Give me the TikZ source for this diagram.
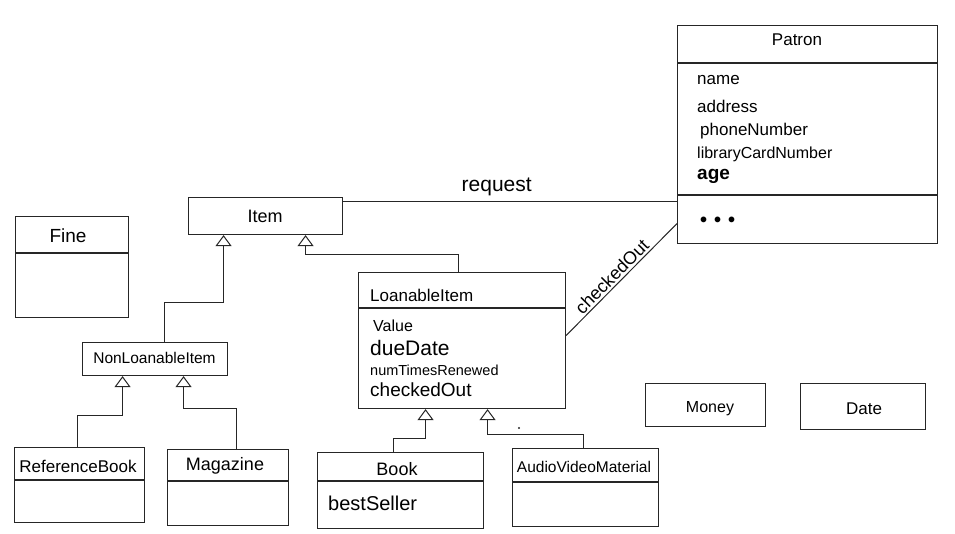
\documentclass[tikz,border=0pt]{standalone}
\usepackage{fontspec}
\setmainfont{Liberation Sans}
\usetikzlibrary{arrows.meta}
\begin{document}
\begin{tikzpicture}[x=1pt,y=-1pt,
  umlbox/.style={draw=black!85, line width=1.1pt, rectangle, inner sep=0pt, anchor=north west},
  divider/.style={draw=black!85, line width=1.1pt},
  txt/.style={inner sep=0pt, text=black},
  fs/.style={font=\fontsize{#1}{#1}\selectfont},
  gen/.style={draw=black!85, line width=1pt,
    -{Triangle[open, length=11pt, width=16pt, line width=1pt]}},
  assoc/.style={draw=black!85, line width=1pt},
]
\useasboundingbox (0,0) rectangle (955,534);

% ---- class boxes ----
\node[umlbox, minimum width=260pt, minimum height=218pt] (patron) at (677,25) {};
\node[umlbox, minimum width=154pt, minimum height=37pt]  (item)   at (188,197) {};
\node[umlbox, minimum width=113pt, minimum height=101pt] (fine)   at (15,216) {};
\node[umlbox, minimum width=207pt, minimum height=136pt] (loan)   at (358,272) {};
\node[umlbox, minimum width=145pt, minimum height=33pt]  (nonloan) at (82,342) {};
\node[umlbox, minimum width=130pt, minimum height=75pt]  (refbook) at (14,447) {};
\node[umlbox, minimum width=121pt, minimum height=76pt]  (mag)    at (167,449) {};
\node[umlbox, minimum width=166pt, minimum height=76pt]  (book)   at (317,452) {};
\node[umlbox, minimum width=146pt, minimum height=78pt]  (av)     at (512,448) {};
\node[umlbox, minimum width=120pt, minimum height=43pt]  (money)  at (645,383) {};
\node[umlbox, minimum width=125pt, minimum height=46pt]  (date)   at (800,383) {};

% ---- compartment dividers ----
\draw[divider] ([yshift=-38pt]patron.north west) -- ([yshift=-38pt]patron.north east);
\draw[divider] ([yshift=-170pt]patron.north west) -- ([yshift=-170pt]patron.north east);
\draw[divider] ([yshift=-37pt]fine.north west) -- ([yshift=-37pt]fine.north east);
\draw[divider] ([yshift=-36pt]loan.north west) -- ([yshift=-36pt]loan.north east);
\draw[divider] ([yshift=-33pt]refbook.north west) -- ([yshift=-33pt]refbook.north east);
\draw[divider] ([yshift=-32pt]mag.north west) -- ([yshift=-32pt]mag.north east);
\draw[divider] ([yshift=-29pt]book.north west) -- ([yshift=-29pt]book.north east);
\draw[divider] ([yshift=-34pt]av.north west) -- ([yshift=-34pt]av.north east);

% ---- class names ----
\node[txt, fs=17] (tpatron) at (797,40) {Patron};
\node[txt, fs=18] (titem) at (265,216) {Item};
\node[txt, fs=19] (tfine) at (68,236) {Fine};
\node[txt, fs=17, anchor=west] (tloan) at (370,295) {LoanableItem};
\node[txt, fs=15.5] (tnonloan) at (154.5,358) {NonLoanableItem};
\node[txt, fs=17] (trefbook) at (78,466) {ReferenceBook};
\node[txt, fs=18] (tmag) at (225,466) {Magazine};
\node[txt, fs=18] (tbook) at (397,469) {Book};
\node[txt, fs=15.5] (tav) at (584,467) {AudioVideoMaterial};
\node[txt, fs=16] (tmoney) at (710,409) {Money};
\node[txt, fs=17] (tdate) at (864,409) {Date};

% ---- attributes ----
\node[txt, fs=17, anchor=west] (aname) at (697,80) {name};
\node[txt, fs=17, anchor=west] (aaddr) at (697,106) {address};
\node[txt, fs=17, anchor=west] (aphone) at (700,131) {phoneNumber};
\node[txt, fs=16, anchor=west] (acard) at (697,154) {libraryCardNumber};
\node[txt, anchor=west, font=\fontsize{19}{19}\selectfont\bfseries] (aage) at (697,176) {age};
\node[txt, anchor=west, font=\fontsize{20}{20}\selectfont\bfseries] (amore) at (700,222) {•\hspace{7pt}•\hspace{7pt}•};

\node[txt, fs=16, anchor=west] (avalue) at (373,326) {Value};
\node[txt, fs=21, anchor=west] (adue) at (370,348) {dueDate};
\node[txt, fs=14.5, anchor=west] (arenew) at (370,370) {numTimesRenewed};
\node[txt, fs=19, anchor=west] (achecked) at (370,390) {checkedOut};
\node[txt, fs=20, anchor=west] (abest) at (328,503) {bestSeller};

% ---- generalizations ----
\draw[gen] ([xshift=9.5pt]nonloan.north) -- ++(0,-39) -| ([xshift=-42pt]item.south);
\draw[gen] ([xshift=-3.5pt]loan.north) -- ++(0,-17) -| ([xshift=40pt]item.south);
\draw[gen] ([xshift=-2pt]refbook.north) -- ++(0,-32) -| ([xshift=-32.5pt]nonloan.south);
\draw[gen] ([xshift=8.5pt]mag.north) -- ++(0,-41) -| ([xshift=28.5pt]nonloan.south);
\draw[gen] ([xshift=-7pt]book.north) -- ++(0,-14) -| ([xshift=-36.5pt]loan.south);
\draw[gen] ([xshift=-2pt]av.north) -- ++(0,-14) -| ([xshift=25.5pt]loan.south);
\fill[black!85] (519,428) circle (1.1pt);

% ---- associations ----
\draw[assoc] ([yshift=-5pt]item.north east) -- ([yshift=-5pt]item.north east -| patron.west)
  node[txt, fs=21, pos=0.46, yshift=15pt] (lrequest) {request};
\draw[assoc] ([yshift=5pt]loan.east) -- ([yshift=-89pt]patron.west)
  node[txt, fs=18, pos=0.47, sloped, above=2pt] (lchecked) {checkedOut};
\end{tikzpicture}
\end{document}
